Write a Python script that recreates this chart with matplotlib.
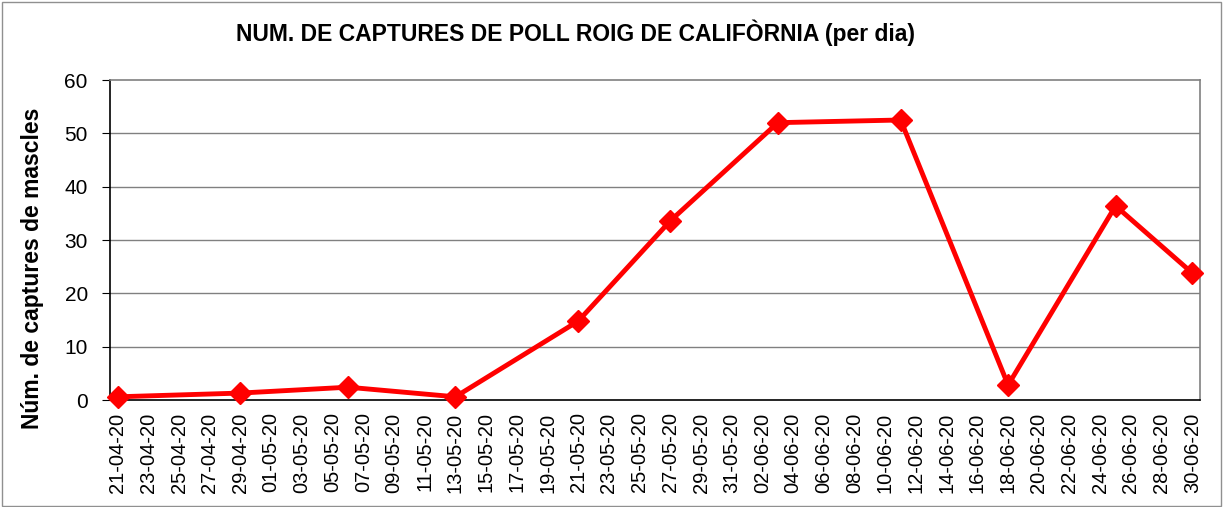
import matplotlib
matplotlib.use("Agg")
import matplotlib.pyplot as plt
import matplotlib.dates as mdates
import numpy as np
from datetime import datetime, timedelta

plt.rcParams['font.family'] = ['Liberation Sans', 'DejaVu Sans']

dates = ["21-04-20", "29-04-20", "06-05-20", "13-05-20", "21-05-20", "27-05-20",
         "03-06-20", "11-06-20", "18-06-20", "25-06-20", "30-06-20"]
captures = [0.6, 1.3, 2.4, 0.6, 14.8, 33.6, 52.0, 52.5, 2.8, 36.4, 23.8]

title = "NUM. DE CAPTURES DE POLL ROIG DE CALIFÒRNIA (per dia)"
ylabel = "Núm. de captures de mascles"
yticks = [0, 10, 20, 30, 40, 50, 60]

x = [datetime.strptime(d, "%d-%m-%y") for d in dates]
start = datetime(2020, 4, 21)
end = datetime(2020, 6, 30)
xticks = [start + timedelta(days=2 * i) for i in range(36)]

fig = plt.figure(figsize=(12.23, 5.07), dpi=100)
ax = fig.add_axes([110 / 1223, 1 - 400 / 507, 1090 / 1223, 320 / 507])

for y in yticks[1:-1]:
    ax.axhline(y, color='#808080', linewidth=1.0, zorder=1)

ax.plot(x, captures, color='#ff0000', linewidth=3.5, marker='D', markersize=11,
        zorder=3, clip_on=False)

ax.set_xlim(start - timedelta(hours=12), end + timedelta(hours=12))
ax.set_ylim(0, 60)
ax.set_yticks(yticks)
ax.set_xticks(xticks)
ax.xaxis.set_major_formatter(mdates.DateFormatter('%d-%m-%y'))
ax.tick_params(axis='x', length=0, rotation=90, labelsize=14.5, pad=9)
ax.tick_params(axis='y', length=6, labelsize=15, direction='out', pad=10)

ax.spines['left'].set_color('black')
ax.spines['bottom'].set_color('black')
ax.spines['top'].set_color('#808080')
ax.spines['right'].set_color('#808080')
for s in ax.spines.values():
    s.set_linewidth(1.2)

fig.text(33 / 1223, 1 - 268 / 507, ylabel, rotation=90, ha='center', va='center',
         fontsize=16.5, fontweight='bold')
fig.text(575 / 1223, 1 - 33 / 507, title, ha='center', va='center',
         fontsize=16.5, fontweight='bold')

border = plt.Rectangle((0.002, 0.002), 0.996, 0.994, transform=fig.transFigure,
                       fill=False, edgecolor='#909090', linewidth=1.0)
fig.patches.append(border)

fig.savefig("out.png", dpi=100)
